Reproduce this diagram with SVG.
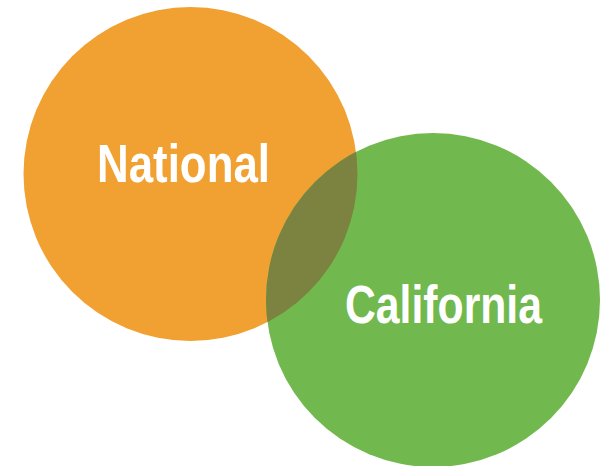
<svg xmlns="http://www.w3.org/2000/svg" width="601" height="466" viewBox="0 0 601 466">
<style>
.lbl{font-family:"Liberation Sans",Arial,sans-serif;font-weight:bold;font-size:53px;fill:#fff}
</style>
<defs>
<clipPath id="clipO"><circle cx="190.5" cy="174" r="167"/></clipPath>
</defs>
<rect width="601" height="466" fill="#fff"/>
<g id="national">
<circle cx="190.5" cy="174" r="167" fill="#F1A132"/>
</g>
<g id="california">
<circle cx="433" cy="300" r="167" fill="#71B94E"/>
</g>
<g id="overlap">
<circle cx="433" cy="300" r="167" fill="#7C823F" clip-path="url(#clipO)"/>
</g>
<g id="labels">
<text class="lbl" x="97" y="182" textLength="173" lengthAdjust="spacingAndGlyphs">National</text>
<text class="lbl" x="345" y="323" textLength="197" lengthAdjust="spacingAndGlyphs">California</text>
</g>
</svg>
